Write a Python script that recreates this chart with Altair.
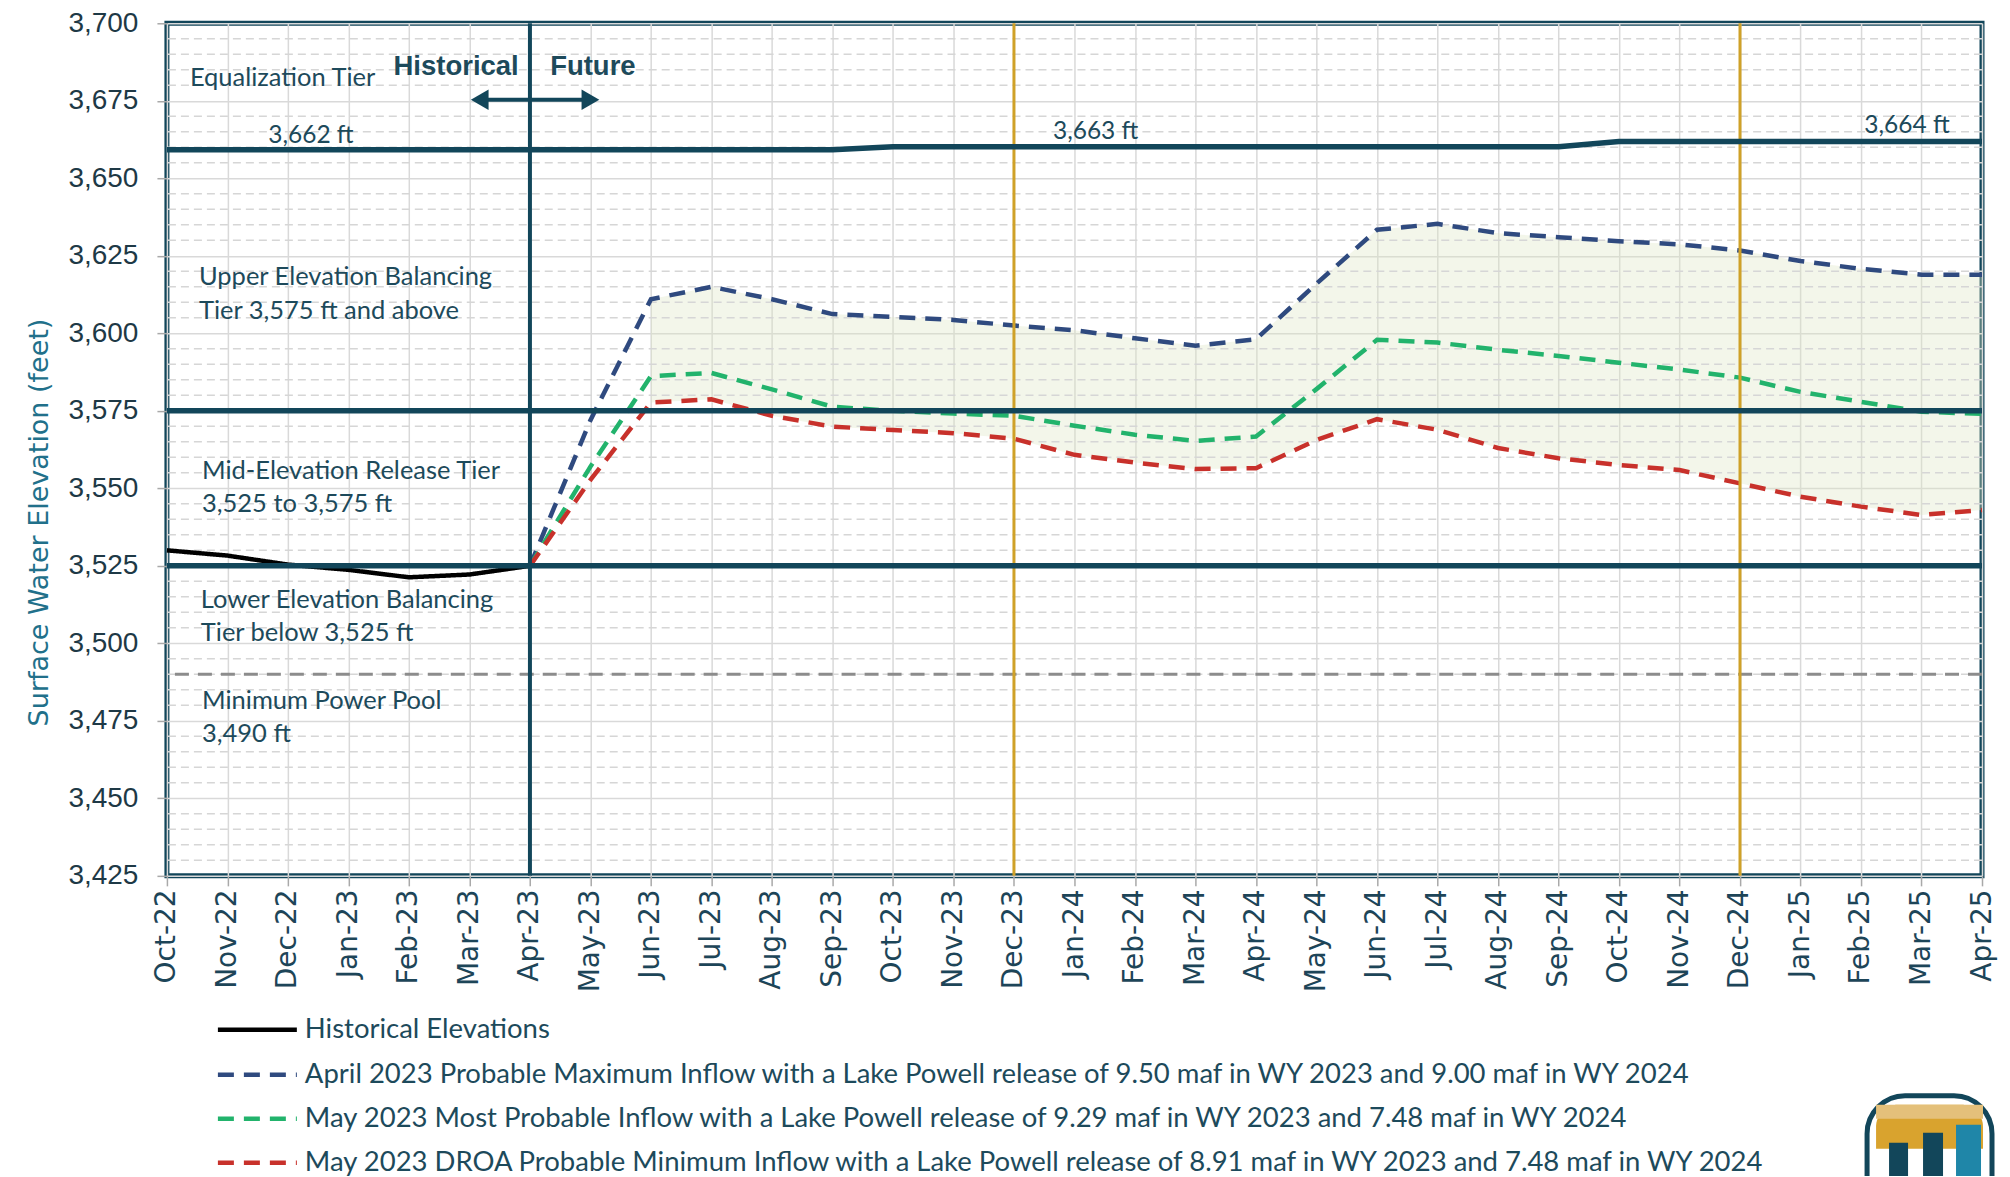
import altair as alt
import pandas as pd

# ---------------- data ----------------
months = ["Oct-22", "Nov-22", "Dec-22", "Jan-23", "Feb-23", "Mar-23", "Apr-23",
          "May-23", "Jun-23", "Jul-23", "Aug-23", "Sep-23", "Oct-23", "Nov-23",
          "Dec-23", "Jan-24", "Feb-24", "Mar-24", "Apr-24", "May-24", "Jun-24",
          "Jul-24", "Aug-24", "Sep-24", "Oct-24", "Nov-24", "Dec-24", "Jan-25",
          "Feb-25", "Mar-25", "Apr-25"]

# Oct-22 .. Apr-23
historical = [3530.0, 3528.3, 3525.4, 3523.7, 3521.3, 3522.2, 3525.0]

# Apr-23 .. Apr-25
prob_max = [3525.0, 3572.0, 3611.0, 3615.0, 3611.0, 3606.2, 3605.3, 3604.3, 3602.5,
            3601.0, 3598.4, 3596.0, 3598.1, 3616.0, 3633.4, 3635.3, 3632.3, 3631.0,
            3629.7, 3628.7, 3626.7, 3623.3, 3620.8, 3618.9, 3618.9]
most_prob = [3525.0, 3557.0, 3586.2, 3587.2, 3581.9, 3576.3, 3575.0, 3574.1, 3573.4,
             3570.2, 3567.3, 3565.3, 3566.7, 3582.0, 3597.9, 3597.0, 3594.7, 3592.7,
             3590.5, 3588.3, 3585.7, 3581.1, 3577.9, 3574.7, 3574.0]
prob_min = [3525.0, 3552.7, 3577.7, 3578.7, 3573.4, 3569.9, 3568.8, 3567.8, 3566.0,
            3560.8, 3558.3, 3556.2, 3556.5, 3565.6, 3572.3, 3568.9, 3563.0, 3559.7,
            3557.5, 3555.9, 3551.6, 3547.3, 3544.1, 3541.4, 3543.0]

# Equalization tier line, Oct-22 .. Apr-25
equalization = [3659.2] * 12 + [3660.2] * 12 + [3661.9] * 7

upper_tier = 3575
mid_tier = 3525
min_power_pool = 3490
future_start = "Apr-23"
water_year_marks = ["Dec-23", "Dec-24"]

y_ticks = [3425, 3450, 3475, 3500, 3525, 3550, 3575, 3600, 3625, 3650, 3675, 3700]
y_minor = [v for v in range(3430, 3700, 5) if v % 25 != 0]

series_names = [
    "Historical Elevations",
    "April 2023 Probable Maximum Inflow with a Lake Powell release of 9.50 maf in WY 2023 and 9.00 maf in WY 2024",
    "May 2023 Most Probable Inflow with a Lake Powell release of 9.29 maf in WY 2023 and 7.48 maf in WY 2024",
    "May 2023 DROA Probable Minimum Inflow with a Lake Powell release of 8.91 maf in WY 2023 and 7.48 maf in WY 2024",
]
series_colors = ["#000000", "#2f4a7f", "#22b36c", "#c8312b"]
series_dash = [[1, 0], [16, 10], [16, 10], [16, 10]]

# ---------------- tables ----------------
start = months.index(future_start)
rows = [{"i": k, "value": v, "series": series_names[0]} for k, v in enumerate(historical)]
for name, vals in zip(series_names[1:], [prob_max, most_prob, prob_min]):
    rows += [{"i": start + k, "value": v, "series": name} for k, v in enumerate(vals)]
lines_df = pd.DataFrame(rows)

area_df = pd.DataFrame([{"i": start + k, "hi": prob_max[k], "lo": prob_min[k]}
                        for k in range(2, len(prob_max))])
eq_df = pd.DataFrame({"i": list(range(len(months))), "value": equalization})
minor_df = pd.DataFrame({"y": y_minor})

TEAL = "#12465a"
TEXT = "#1d4a5b"
GOLD = "#cfa128"

label_expr = "[" + ",".join("'%s'" % m for m in months) + "][datum.value]"

xscale = alt.Scale(domain=[0, len(months) - 1], nice=False, zero=False)
yscale = alt.Scale(domain=[3425, 3700], nice=False, zero=False)

one = alt.Data(values=[{}])

# ---------------- layers ----------------
area = alt.Chart(area_df).mark_area(color="#dce6c4", opacity=0.35).encode(
    x=alt.X("i:Q", scale=xscale),
    y=alt.Y("hi:Q", scale=yscale),
    y2="lo:Q",
)

minor = alt.Chart(minor_df).mark_rule(color="#d6d6d6", strokeWidth=1.5, strokeDash=[8, 5]).encode(
    y=alt.Y("y:Q", scale=yscale)
)

power_pool = alt.Chart(one).mark_rule(color="#8c8c8c", strokeWidth=3, strokeDash=[14, 9]).encode(
    y=alt.datum(min_power_pool)
)

lines = alt.Chart(lines_df).mark_line(strokeWidth=4.5).encode(
    x=alt.X("i:Q", scale=xscale, title=None,
            axis=alt.Axis(values=list(range(len(months))), labelExpr=label_expr)),
    y=alt.Y("value:Q", scale=yscale, title="Surface Water Elevation (feet)",
            axis=alt.Axis(values=y_ticks, labelExpr="format(datum.value, ',')")),
    color=alt.Color("series:N", scale=alt.Scale(domain=series_names, range=series_colors),
                    legend=None),
    strokeDash=alt.StrokeDash("series:N", scale=alt.Scale(domain=series_names, range=series_dash),
                              legend=None),
    order=alt.Order("i:Q"),
)

gold_rules = [
    alt.Chart(one).mark_rule(color=GOLD, strokeWidth=3).encode(x=alt.datum(months.index(m)))
    for m in water_year_marks
]

tier_rules = [
    alt.Chart(one).mark_rule(color=TEAL, strokeWidth=5.5).encode(y=alt.datum(upper_tier)),
    alt.Chart(one).mark_rule(color=TEAL, strokeWidth=5.5).encode(y=alt.datum(mid_tier)),
    alt.Chart(one).mark_rule(color=TEAL, strokeWidth=4).encode(x=alt.datum(start)),
]

eq_line = alt.Chart(eq_df).mark_line(color=TEAL, strokeWidth=5.5).encode(
    x=alt.X("i:Q", scale=xscale), y=alt.Y("value:Q", scale=yscale)
)

arrow_y = 3675.3
arrow = [
    alt.Chart(one).mark_rule(color=TEAL, strokeWidth=4).encode(
        x=alt.datum(5.2), x2=alt.datum(6.95), y=alt.datum(arrow_y)),
    alt.Chart(one).mark_point(shape="triangle-left", filled=True, size=420, color=TEAL, opacity=1).encode(
        x=alt.datum(5.17), y=alt.datum(arrow_y)),
    alt.Chart(one).mark_point(shape="triangle-right", filled=True, size=420, color=TEAL, opacity=1).encode(
        x=alt.datum(7.0), y=alt.datum(arrow_y)),
]


def note(text, x, y, size=25.5, weight="normal", align="left", font="Lato"):
    return alt.Chart(one).mark_text(
        text=text, align=align, baseline="middle", fontSize=size, fontWeight=weight,
        font=font, color=TEXT
    ).encode(x=alt.datum(x), y=alt.datum(y))


notes = [
    note("Equalization Tier", 0.38, 3682.4),
    note("Historical", 4.78, 3686.0, size=27.5, weight="bold", align="center", font="Liberation Sans"),
    note("Future", 7.04, 3686.0, size=27.5, weight="bold", align="center", font="Liberation Sans"),
    note("3,662 ft", 2.38, 3663.7, size=24.5, align="center"),
    note("3,663 ft", 15.35, 3665.0, size=24.5, align="center"),
    note("3,664 ft", 28.76, 3667.0, size=24.5, align="center"),
    note("Upper Elevation Balancing", 0.53, 3618.2),
    note("Tier 3,575 ft and above", 0.53, 3607.3),
    note("Mid-Elevation Release Tier", 0.58, 3555.6),
    note("3,525 to 3,575 ft", 0.58, 3545.0),
    note("Lower Elevation Balancing", 0.56, 3513.9),
    note("Tier below 3,525 ft", 0.56, 3503.3),
    note("Minimum Power Pool", 0.58, 3481.5),
    note("3,490 ft", 0.58, 3470.9),
]

# ---------------- legend (drawn below the axis) ----------------
legend_rows_y = [1007, 1052, 1096, 1140]   # pixel rows below the plot area
legend_layers = []
for name, col, dash, ly in zip(series_names, series_colors, series_dash, legend_rows_y):
    legend_layers.append(
        alt.Chart(one).mark_rule(color=col, strokeWidth=4.5, strokeDash=dash).encode(
            x=alt.value(51), x2=alt.value(130), y=alt.value(ly))
    )
    legend_layers.append(
        alt.Chart(one).mark_text(text=name, align="left", baseline="middle", fontSize=27.5,
                                 font="Lato", color=TEXT).encode(
            x=alt.value(138), y=alt.value(ly))
    )

# ---------------- simple agency badge, bottom right ----------------
badge = [
    alt.Chart(one).mark_rect(fill="white", stroke=TEAL, strokeWidth=5,
                             cornerRadiusTopLeft=38, cornerRadiusTopRight=38).encode(
        x=alt.value(1701), x2=alt.value(1826), y=alt.value(1073), y2=alt.value(1171)),
    alt.Chart(one).mark_rect(fill="#d9a32e", cornerRadiusTopLeft=30, cornerRadiusTopRight=30).encode(
        x=alt.value(1710), x2=alt.value(1817), y=alt.value(1082), y2=alt.value(1126)),
    alt.Chart(one).mark_rect(fill="#e4c07a").encode(
        x=alt.value(1710), x2=alt.value(1817), y=alt.value(1082), y2=alt.value(1096)),
    alt.Chart(one).mark_rect(fill=TEAL).encode(
        x=alt.value(1723), x2=alt.value(1742), y=alt.value(1120), y2=alt.value(1171)),
    alt.Chart(one).mark_rect(fill=TEAL).encode(
        x=alt.value(1757), x2=alt.value(1777), y=alt.value(1110), y2=alt.value(1171)),
    alt.Chart(one).mark_rect(fill="#1f86a8").encode(
        x=alt.value(1790), x2=alt.value(1815), y=alt.value(1102), y2=alt.value(1171)),
]

chart = alt.layer(
    area, minor, power_pool, lines, *gold_rules, *tier_rules, eq_line, *arrow, *notes,
    *legend_layers, *badge
).properties(
    width=1816, height=853,
    autosize=alt.AutoSizeParams(type="none"),
    padding={"left": 159, "top": 15, "right": 20, "bottom": 300},
    background="white",
).configure_view(
    stroke=TEAL, strokeWidth=5
).configure_axis(
    grid=True, gridColor="#d9d9d9", gridWidth=1.5, domain=False,
    tickColor="#a9a9a9", tickSize=10, tickWidth=1.5,
).configure_axisX(
    labelAngle=270, labelFont="DejaVu Sans", labelFontSize=28, labelColor="#1d4558",
    labelPadding=3, labelOverlap=False, labelFlush=False,
).configure_axisY(
    labelFont="Liberation Sans", labelFontSize=28, labelColor="#1e3946", labelPadding=19,
    titleFont="DejaVu Sans", titleFontSize=27, titleFontWeight="normal",
    titleColor="#21708a", titlePadding=14, titleY=499, labelExpr="format(datum.value, ',')",
)

chart.save("out.html", embed_options={"renderer": "svg", "actions": False})
